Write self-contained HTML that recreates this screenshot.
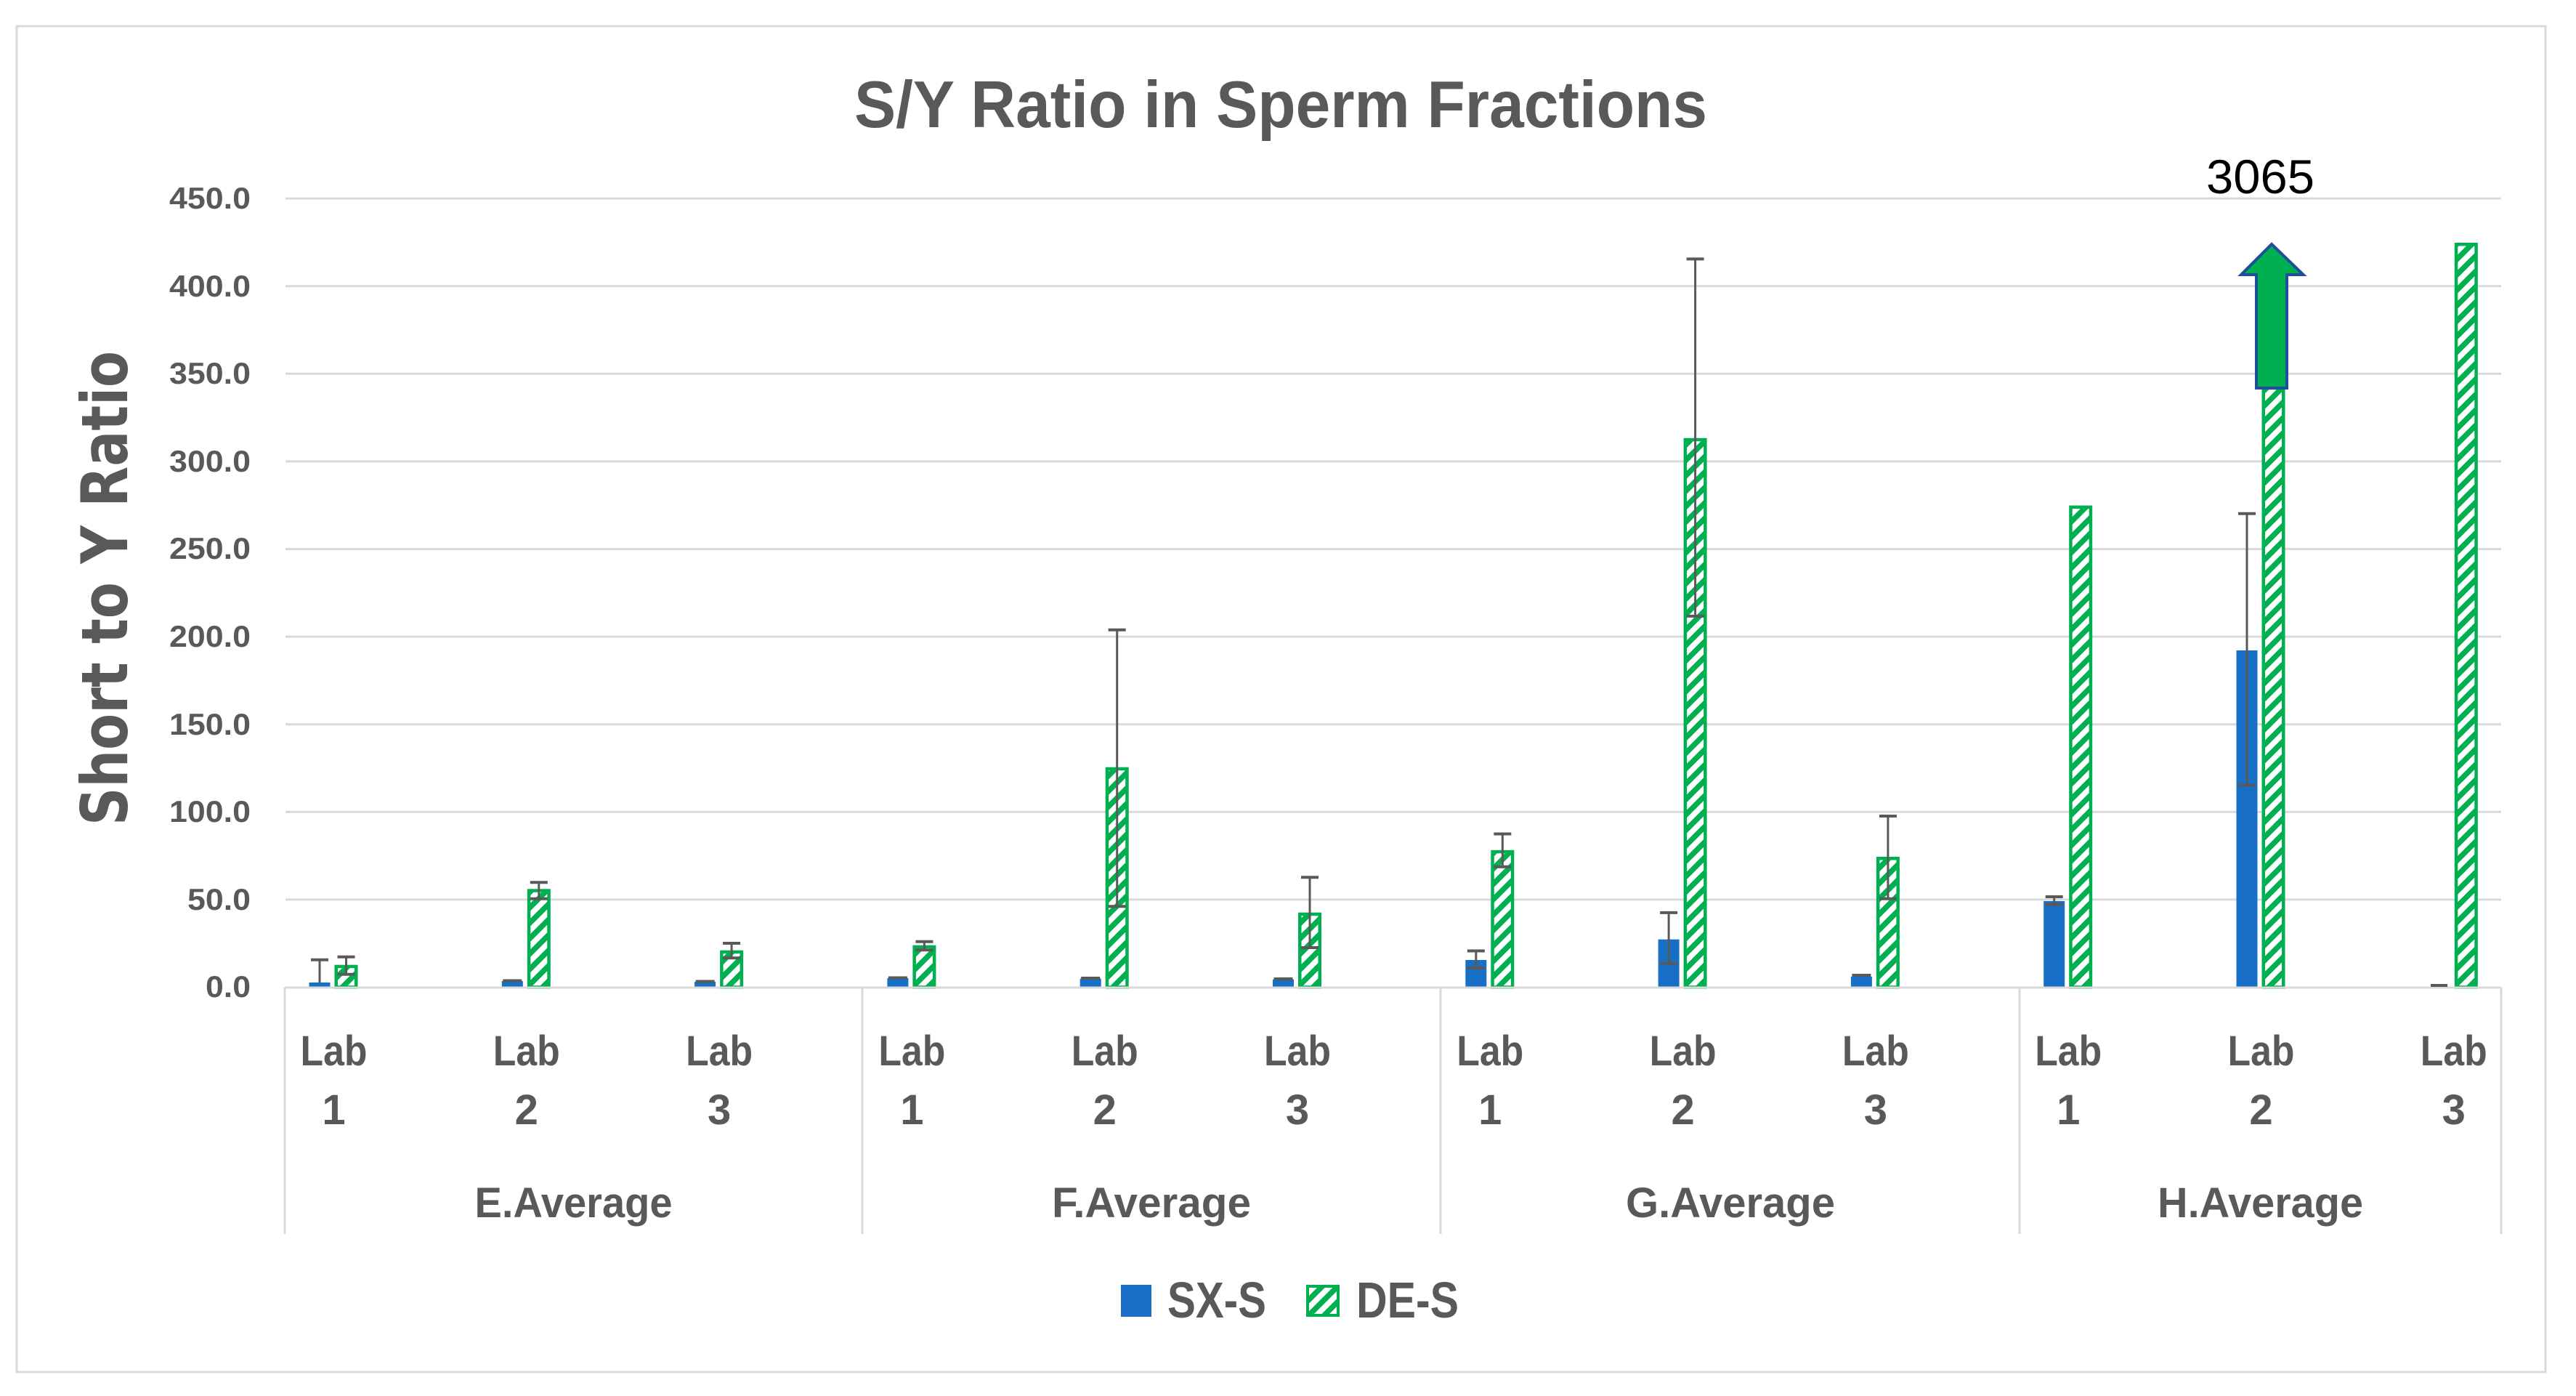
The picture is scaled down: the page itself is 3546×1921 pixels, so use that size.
<!DOCTYPE html>
<html>
<head>
<meta charset="utf-8">
<style>
  html,body{margin:0;padding:0;background:#fff;}
  svg{display:block;}
  text{font-family:"Liberation Sans",Arial,sans-serif;fill:#595959;}
</style>
</head>
<body>
<svg width="3546" height="1921" viewBox="0 0 3546 1921" xmlns="http://www.w3.org/2000/svg">
  <defs>
    <pattern id="hatch" width="15" height="15" patternUnits="userSpaceOnUse" patternTransform="rotate(45)">
      <rect width="15" height="15" fill="#ffffff"/>
      <rect width="7.5" height="15" fill="#00b050"/>
    </pattern>
  </defs>
  <rect x="0" y="0" width="3546" height="1921" fill="#fff"/>
  <!-- chart border -->
  <rect x="23" y="36" width="3481" height="1852" fill="#fff" stroke="#d9d9d9" stroke-width="3"/>

  <!-- title -->
  <text x="1176" y="175" font-size="91" font-weight="bold" textLength="1174" lengthAdjust="spacingAndGlyphs">S/Y Ratio in Sperm Fractions</text>

  <!-- y axis title -->
  <text transform="translate(175,809.5) rotate(-90)" x="-326.5" y="0" font-size="88" font-weight="bold" textLength="653" lengthAdjust="spacingAndGlyphs" style="font-family:'DejaVu Sans',Verdana,sans-serif;">Short to Y Ratio</text>

  <!-- gridlines -->
  <g stroke="#d9d9d9" stroke-width="3">
    <line x1="393" y1="1237.9" x2="3443" y2="1237.9"/>
    <line x1="393" y1="1117.3" x2="3443" y2="1117.3"/>
    <line x1="393" y1="996.7" x2="3443" y2="996.7"/>
    <line x1="393" y1="876.1" x2="3443" y2="876.1"/>
    <line x1="393" y1="755.5" x2="3443" y2="755.5"/>
    <line x1="393" y1="634.9" x2="3443" y2="634.9"/>
    <line x1="393" y1="514.3" x2="3443" y2="514.3"/>
    <line x1="393" y1="393.7" x2="3443" y2="393.7"/>
    <line x1="393" y1="273.1" x2="3443" y2="273.1"/>
  </g>

  <!-- y tick labels -->
  <g font-size="42" font-weight="bold">
    <text x="233" y="287" textLength="112" lengthAdjust="spacingAndGlyphs">450.0</text>
    <text x="233" y="408" textLength="112" lengthAdjust="spacingAndGlyphs">400.0</text>
    <text x="233" y="528" textLength="112" lengthAdjust="spacingAndGlyphs">350.0</text>
    <text x="233" y="649" textLength="112" lengthAdjust="spacingAndGlyphs">300.0</text>
    <text x="233" y="769" textLength="112" lengthAdjust="spacingAndGlyphs">250.0</text>
    <text x="233" y="890" textLength="112" lengthAdjust="spacingAndGlyphs">200.0</text>
    <text x="233" y="1011" textLength="112" lengthAdjust="spacingAndGlyphs">150.0</text>
    <text x="233" y="1131" textLength="112" lengthAdjust="spacingAndGlyphs">100.0</text>
    <text x="258" y="1252" textLength="87" lengthAdjust="spacingAndGlyphs">50.0</text>
    <text x="283" y="1372" textLength="62" lengthAdjust="spacingAndGlyphs">0.0</text>
  </g>

  <!-- blue bars (SX-S) -->
  <g fill="#176fc6">
    <rect x="425.5" y="1352" width="29" height="6.5"/>
    <rect x="690.8" y="1350" width="29" height="8.5"/>
    <rect x="956.1" y="1351" width="29" height="7.5"/>
    <rect x="1221.4" y="1346" width="29" height="12.5"/>
    <rect x="1486.7" y="1346.7" width="29" height="11.8"/>
    <rect x="1752" y="1347.7" width="29" height="10.8"/>
    <rect x="2017.3" y="1321" width="29" height="37.5"/>
    <rect x="2282.6" y="1292.7" width="29" height="65.8"/>
    <rect x="2547.9" y="1344" width="29" height="14.5"/>
    <rect x="2813.2" y="1240" width="29" height="118.5"/>
    <rect x="3078.5" y="895" width="29" height="463.5"/>
  </g>

  <!-- green hatched bars (DE-S) -->
  <g fill="url(#hatch)" stroke="#00b050" stroke-width="4.5">
    <rect x="462.75" y="1329.95" width="27.5" height="28.55"/>
    <rect x="728.05" y="1225.55" width="27.5" height="132.95"/>
    <rect x="993.35" y="1309.95" width="27.5" height="48.55"/>
    <rect x="1258.65" y="1302.95" width="27.5" height="55.55"/>
    <rect x="1523.95" y="1057.95" width="27.5" height="300.55"/>
    <rect x="1789.25" y="1257.95" width="27.5" height="100.55"/>
    <rect x="2054.55" y="1172.05" width="27.5" height="186.45"/>
    <rect x="2319.85" y="605.05" width="27.5" height="753.45"/>
    <rect x="2585.15" y="1181.25" width="27.5" height="177.25"/>
    <rect x="2850.45" y="697.85" width="27.5" height="660.65"/>
    <rect x="3115.75" y="534" width="27.5" height="824.5"/>
    <rect x="3381.05" y="336.25" width="27.5" height="1022.25"/>
  </g>

  <!-- axis baseline & category separators -->
  <g stroke="#d9d9d9" stroke-width="3">
    <line x1="392" y1="1359" x2="3443" y2="1359"/>
    <line x1="392" y1="1359" x2="392" y2="1698"/>
    <line x1="1187" y1="1359" x2="1187" y2="1698"/>
    <line x1="1983" y1="1359" x2="1983" y2="1698"/>
    <line x1="2780" y1="1359" x2="2780" y2="1698"/>
    <line x1="3443" y1="1359" x2="3443" y2="1698"/>
  </g>

  <!-- error bars -->
  <g stroke="#595959" stroke-width="3" fill="none">
    <line x1="476.5" y1="1316.7" x2="476.5" y2="1340.7"/>
    <line x1="741.8" y1="1214.3" x2="741.8" y2="1236.7"/>
    <line x1="1007.1" y1="1298" x2="1007.1" y2="1318.3"/>
    <line x1="1272.4" y1="1295.7" x2="1272.4" y2="1307.3"/>
    <line x1="1537.7" y1="866.7" x2="1537.7" y2="1247.3"/>
    <line x1="1803" y1="1207.3" x2="1803" y2="1304"/>
    <line x1="2068.3" y1="1147.5" x2="2068.3" y2="1192.8"/>
    <line x1="2333.6" y1="356.4" x2="2333.6" y2="847.9"/>
    <line x1="2598.9" y1="1123" x2="2598.9" y2="1236.8"/>
    <line x1="440" y1="1320.7" x2="440" y2="1352"/>
    <line x1="2031.8" y1="1308.5" x2="2031.8" y2="1332"/>
    <line x1="2297.1" y1="1255.9" x2="2297.1" y2="1325.5"/>
    <line x1="2827.7" y1="1234" x2="2827.7" y2="1244.6"/>
    <line x1="3093" y1="706.7" x2="3093" y2="1080.8"/>
  </g>
  <g stroke="#595959" stroke-width="4" fill="none">
    <line x1="464.5" y1="1316.7" x2="488.5" y2="1316.7"/>
    <line x1="464.5" y1="1340.7" x2="488.5" y2="1340.7"/>
    <line x1="729.8" y1="1214.3" x2="753.8" y2="1214.3"/>
    <line x1="729.8" y1="1236.7" x2="753.8" y2="1236.7"/>
    <line x1="995.1" y1="1298" x2="1019.1" y2="1298"/>
    <line x1="995.1" y1="1318.3" x2="1019.1" y2="1318.3"/>
    <line x1="1260.4" y1="1295.7" x2="1284.4" y2="1295.7"/>
    <line x1="1260.4" y1="1307.3" x2="1284.4" y2="1307.3"/>
    <line x1="1525.7" y1="866.7" x2="1549.7" y2="866.7"/>
    <line x1="1525.7" y1="1247.3" x2="1549.7" y2="1247.3"/>
    <line x1="1791" y1="1207.3" x2="1815" y2="1207.3"/>
    <line x1="1791" y1="1304" x2="1815" y2="1304"/>
    <line x1="2056.3" y1="1147.5" x2="2080.3" y2="1147.5"/>
    <line x1="2056.3" y1="1192.8" x2="2080.3" y2="1192.8"/>
    <line x1="2321.6" y1="356.4" x2="2345.6" y2="356.4"/>
    <line x1="2321.6" y1="847.9" x2="2345.6" y2="847.9"/>
    <line x1="2586.9" y1="1123" x2="2610.9" y2="1123"/>
    <line x1="2586.9" y1="1236.8" x2="2610.9" y2="1236.8"/>
    <line x1="428" y1="1320.7" x2="452" y2="1320.7"/>
    <line x1="692.3" y1="1349.5" x2="718.3" y2="1349.5"/>
    <line x1="957.6" y1="1350.5" x2="983.6" y2="1350.5"/>
    <line x1="1222.9" y1="1345.5" x2="1248.9" y2="1345.5"/>
    <line x1="1488.2" y1="1346" x2="1514.2" y2="1346"/>
    <line x1="1753.5" y1="1347" x2="1779.5" y2="1347"/>
    <line x1="2019.8" y1="1308.5" x2="2043.8" y2="1308.5"/>
    <line x1="2019.8" y1="1332" x2="2043.8" y2="1332"/>
    <line x1="2285.1" y1="1255.9" x2="2309.1" y2="1255.9"/>
    <line x1="2285.1" y1="1325.5" x2="2309.1" y2="1325.5"/>
    <line x1="2549.4" y1="1342" x2="2575.4" y2="1342"/>
    <line x1="2815.7" y1="1234" x2="2839.7" y2="1234"/>
    <line x1="2815.7" y1="1244.6" x2="2839.7" y2="1244.6"/>
    <line x1="3081" y1="706.7" x2="3105" y2="706.7"/>
    <line x1="3081" y1="1080.8" x2="3105" y2="1080.8"/>
    <line x1="3346" y1="1356" x2="3369" y2="1356"/>
  </g>

  <!-- arrow -->
  <polygon points="3127,336 3170.6,378 3148,378 3148,534 3106,534 3106,378 3085,378" fill="#00b050" stroke="#1f4e9a" stroke-width="4" stroke-linejoin="miter"/>
  <text x="3037" y="266" font-size="66" textLength="149" lengthAdjust="spacingAndGlyphs" style="fill:#000;">3065</text>

  <!-- category labels -->
  <g font-size="58" font-weight="bold">
    <text x="413.5" y="1466" textLength="92" lengthAdjust="spacingAndGlyphs">Lab</text>
    <text x="678.8" y="1466" textLength="92" lengthAdjust="spacingAndGlyphs">Lab</text>
    <text x="944.1" y="1466" textLength="92" lengthAdjust="spacingAndGlyphs">Lab</text>
    <text x="1209.4" y="1466" textLength="92" lengthAdjust="spacingAndGlyphs">Lab</text>
    <text x="1474.7" y="1466" textLength="92" lengthAdjust="spacingAndGlyphs">Lab</text>
    <text x="1740" y="1466" textLength="92" lengthAdjust="spacingAndGlyphs">Lab</text>
    <text x="2005.3" y="1466" textLength="92" lengthAdjust="spacingAndGlyphs">Lab</text>
    <text x="2270.6" y="1466" textLength="92" lengthAdjust="spacingAndGlyphs">Lab</text>
    <text x="2535.9" y="1466" textLength="92" lengthAdjust="spacingAndGlyphs">Lab</text>
    <text x="2801.2" y="1466" textLength="92" lengthAdjust="spacingAndGlyphs">Lab</text>
    <text x="3066.5" y="1466" textLength="92" lengthAdjust="spacingAndGlyphs">Lab</text>
    <text x="3331.8" y="1466" textLength="92" lengthAdjust="spacingAndGlyphs">Lab</text>
  </g>
  <g font-size="58" font-weight="bold" text-anchor="middle">
    <text x="459.5" y="1547">1</text>
    <text x="724.8" y="1547">2</text>
    <text x="990.1" y="1547">3</text>
    <text x="1255.4" y="1547">1</text>
    <text x="1520.7" y="1547">2</text>
    <text x="1786" y="1547">3</text>
    <text x="2051.3" y="1547">1</text>
    <text x="2316.6" y="1547">2</text>
    <text x="2581.9" y="1547">3</text>
    <text x="2847.2" y="1547">1</text>
    <text x="3112.5" y="1547">2</text>
    <text x="3377.8" y="1547">3</text>
  </g>
  <g font-size="58" font-weight="bold">
    <text x="653.5" y="1675" textLength="272" lengthAdjust="spacingAndGlyphs">E.Average</text>
    <text x="1448" y="1675" textLength="274" lengthAdjust="spacingAndGlyphs">F.Average</text>
    <text x="2238" y="1675" textLength="288" lengthAdjust="spacingAndGlyphs">G.Average</text>
    <text x="2970" y="1675" textLength="283" lengthAdjust="spacingAndGlyphs">H.Average</text>
  </g>

  <!-- legend -->
  <rect x="1543" y="1768" width="42" height="44" fill="#176fc6"/>
  <text x="1607" y="1813" font-size="70" font-weight="bold" textLength="136" lengthAdjust="spacingAndGlyphs">SX-S</text>
  <rect x="1800" y="1770" width="42" height="40" fill="url(#hatch)" stroke="#00b050" stroke-width="4"/>
  <text x="1867" y="1813" font-size="70" font-weight="bold" textLength="141" lengthAdjust="spacingAndGlyphs">DE-S</text>
</svg>
</body>
</html>
